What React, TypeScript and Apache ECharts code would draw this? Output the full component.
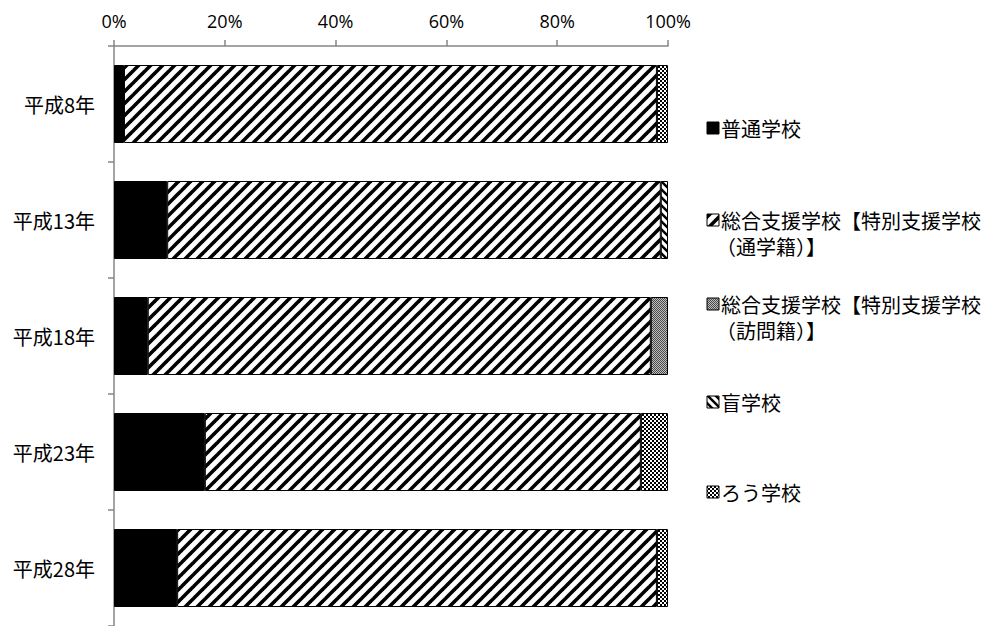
import React, { useEffect, useRef } from 'react';
import * as echarts from 'echarts';

const categories = ['平成8年', '平成13年', '平成18年', '平成23年', '平成28年'];
const seriesNames = [
  '普通学校',
  '総合支援学校【特別支援学校（通学籍）】',
  '総合支援学校【特別支援学校（訪問籍）】',
  '盲学校',
  'ろう学校',
];
const regular = [1.8, 9.6, 6.1, 16.4, 11.4];
const commuting = [96.2, 89.1, 90.8, 78.7, 86.6];
const visiting = [null, null, 3.1, null, null];
const blind = [null, 1.3, null, null, null];
const deaf = [2.0, null, null, 4.9, 2.0];
const xTicks = [0, 20, 40, 60, 80, 100];

const legendLines: string[][] = [
  ['普通学校'],
  ['総合支援学校【特別支援学校', '（通学籍）】'],
  ['総合支援学校【特別支援学校', '（訪問籍）】'],
  ['盲学校'],
  ['ろう学校'],
];

function tile(size: number, draw: (ctx: CanvasRenderingContext2D) => void) {
  const c = document.createElement('canvas');
  c.width = size;
  c.height = size;
  const ctx = c.getContext('2d')!;
  draw(ctx);
  return c;
}

function makePatterns() {
  const upStripes = tile(12, (ctx) => {
    ctx.fillStyle = '#fff';
    ctx.fillRect(0, 0, 12, 12);
    ctx.strokeStyle = '#000';
    ctx.lineWidth = 3.6;
    for (const k of [-12, 0, 12, 24]) {
      ctx.beginPath();
      ctx.moveTo(k - 12, 12 + 12);
      ctx.lineTo(k + 24, -12);
      ctx.stroke();
    }
  });
  const downStripes = tile(8, (ctx) => {
    ctx.fillStyle = '#fff';
    ctx.fillRect(0, 0, 8, 8);
    ctx.strokeStyle = '#000';
    ctx.lineWidth = 2.5;
    for (const k of [-8, 0, 8]) {
      ctx.beginPath();
      ctx.moveTo(k - 8, -8);
      ctx.lineTo(k + 16, 16);
      ctx.stroke();
    }
  });
  const fineGrey = tile(2, (ctx) => {
    ctx.fillStyle = '#bdbdbd';
    ctx.fillRect(0, 0, 2, 2);
    ctx.fillStyle = '#4a4a4a';
    ctx.fillRect(0, 0, 1, 1);
    ctx.fillRect(1, 1, 1, 1);
  });
  const checker = tile(4, (ctx) => {
    ctx.fillStyle = '#fff';
    ctx.fillRect(0, 0, 4, 4);
    ctx.fillStyle = '#000';
    ctx.fillRect(0, 0, 2, 2);
    ctx.fillRect(2, 2, 2, 2);
  });
  return [
    '#000',
    { image: upStripes, repeat: 'repeat' },
    { image: fineGrey, repeat: 'repeat' },
    { image: downStripes, repeat: 'repeat' },
    { image: checker, repeat: 'repeat' },
  ];
}

export default function App() {
  const ref = useRef<HTMLDivElement>(null);
  useEffect(() => {
    if (!ref.current) return;
    const chart = echarts.init(ref.current, null, { renderer: 'svg' });
    const fills: any[] = makePatterns();
    const datasets = [regular, commuting, visiting, blind, deaf];
    const jpFont = '"Noto Sans CJK JP", "Noto Sans", sans-serif';

    const legendY = [128, 220, 304, 402, 492];
    const graphic: any[] = [];
    legendLines.forEach((lines, i) => {
      graphic.push({
        type: 'rect',
        shape: { x: 707, y: legendY[i] - 6, width: 12, height: 12 },
        style: { fill: fills[i], stroke: '#000', lineWidth: 1 },
      });
      lines.forEach((t, j) => {
        graphic.push({
          type: 'text',
          x: j === 0 ? 721 : 716,
          y: legendY[i] + j * 26,
          style: {
            text: t,
            fontSize: 20,
            fontFamily: jpFont,
            fill: '#000',
            verticalAlign: 'middle',
            align: 'left',
          },
        });
      });
    });

    chart.setOption({
      animation: false,
      backgroundColor: '#fff',
      grid: { left: 114, top: 46, width: 554, height: 580, containLabel: false },
      xAxis: {
        type: 'value',
        position: 'top',
        min: xTicks[0],
        max: xTicks[xTicks.length - 1],
        interval: xTicks[1] - xTicks[0],
        axisLine: { show: true, lineStyle: { color: '#868686', width: 1.5 } },
        axisTick: { show: true, length: 6, lineStyle: { color: '#868686', width: 1.5 } },
        splitLine: { show: false },
        axisLabel: {
          formatter: '{value}%',
          fontSize: 18,
          fontFamily: '"Open Sans", "Liberation Sans", sans-serif',
          color: '#000',
          margin: 16,
        },
      },
      yAxis: {
        type: 'category',
        inverse: true,
        data: categories,
        axisLine: { show: true, lineStyle: { color: '#868686', width: 1.5 } },
        axisTick: { show: true, length: 6, lineStyle: { color: '#868686', width: 1.5 } },
        axisLabel: {
          fontSize: 20,
          fontFamily: jpFont,
          color: '#000',
          margin: 19,
        },
      },
      series: seriesNames.map((name, i) => ({
        name,
        type: 'bar',
        stack: 'total',
        barWidth: 78,
        data: datasets[i],
        itemStyle: { color: fills[i], borderColor: '#000', borderWidth: 1 },
        emphasis: { disabled: true },
      })),
      graphic,
    });
    return () => chart.dispose();
  }, []);
  return (
    <div
      ref={ref}
      style={{ position: 'absolute', left: 0, top: 0, width: 996, height: 626 }}
    />
  );
}
